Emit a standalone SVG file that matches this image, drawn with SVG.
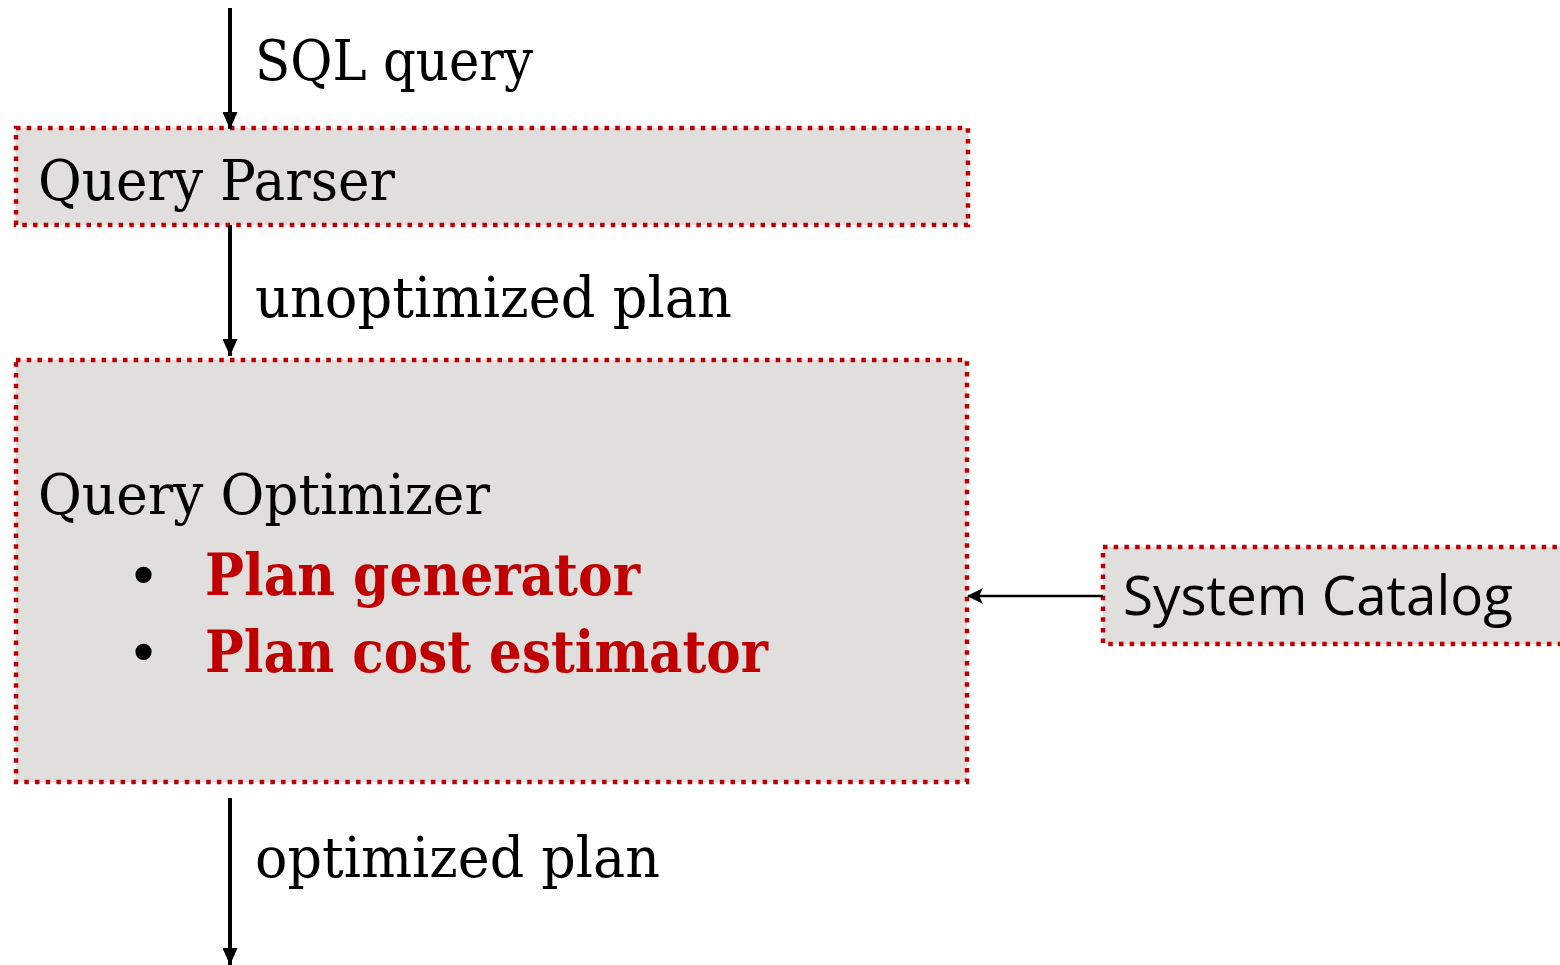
<svg xmlns="http://www.w3.org/2000/svg" width="1560" height="965" viewBox="0 0 1560 965">
  <defs>
    <marker id="arrowBig" viewBox="0 0 17 15" refX="17" refY="7.5" markerWidth="17" markerHeight="15" markerUnits="userSpaceOnUse" orient="auto">
      <path d="M0,0 L17,7.5 L0,15 Z" fill="#000"/>
    </marker>
    <marker id="arrowSmall" viewBox="0 0 16 16" refX="15" refY="8" markerWidth="16" markerHeight="16" markerUnits="userSpaceOnUse" orient="auto">
      <path d="M0,0 L16,8 L0,16 L4,8 Z" fill="#000"/>
    </marker>
    <style>
      .box { fill: #E0DFDE; stroke: #C00000; stroke-width: 4.5; stroke-dasharray: 4.5 6.2; }
      .lbl { font-family: "DejaVu Serif", "Liberation Serif", serif; font-size: 56px; fill: #000; }
      .hot { font-family: "DejaVu Serif", "Liberation Serif", serif; font-size: 58px; font-weight: bold; fill: #C00000; }
      .sans { font-family: "Open Sans", "Noto Sans", "Liberation Sans", sans-serif; font-size: 55px; fill: #000; }
      .flow { stroke: #000; stroke-width: 4; fill: none; }
      .feed { stroke: #000; stroke-width: 2.5; fill: none; }
    </style>
  </defs>

  <rect width="1560" height="965" fill="#fff"/>

  <g id="parser">
    <rect class="box" x="16" y="128" width="952" height="97"/>
    <text class="lbl" x="38" y="200" textLength="357" lengthAdjust="spacingAndGlyphs">Query Parser</text>
  </g>

  <g id="optimizer">
    <rect class="box" x="16" y="360" width="951" height="422"/>
    <text class="lbl" x="38" y="514" textLength="452" lengthAdjust="spacingAndGlyphs">Query Optimizer</text>
    <text class="lbl" x="127" y="596">•</text>
    <text class="hot" x="205" y="595" textLength="435" lengthAdjust="spacingAndGlyphs">Plan generator</text>
    <text class="lbl" x="127" y="673">•</text>
    <text class="hot" x="205" y="672" textLength="563" lengthAdjust="spacingAndGlyphs">Plan cost estimator</text>
  </g>

  <g id="catalog">
    <rect class="box" x="1103" y="547" width="470" height="97"/>
    <text class="sans" x="1123" y="615" textLength="390" lengthAdjust="spacingAndGlyphs">System Catalog</text>
  </g>

  <g id="connectors">
    <line class="flow" x1="230" y1="8" x2="230" y2="129" marker-end="url(#arrowBig)"/>
    <text class="lbl" x="255" y="80" textLength="278" lengthAdjust="spacingAndGlyphs">SQL query</text>
    <line class="flow" x1="230" y1="225" x2="230" y2="356" marker-end="url(#arrowBig)"/>
    <text class="lbl" x="255" y="317" textLength="477" lengthAdjust="spacingAndGlyphs">unoptimized plan</text>
    <line class="flow" x1="230" y1="798" x2="230" y2="965" marker-end="url(#arrowBig)"/>
    <text class="lbl" x="255" y="877" textLength="405" lengthAdjust="spacingAndGlyphs">optimized plan</text>
    <line class="feed" x1="1103" y1="596" x2="968" y2="596" marker-end="url(#arrowSmall)"/>
  </g>
</svg>
